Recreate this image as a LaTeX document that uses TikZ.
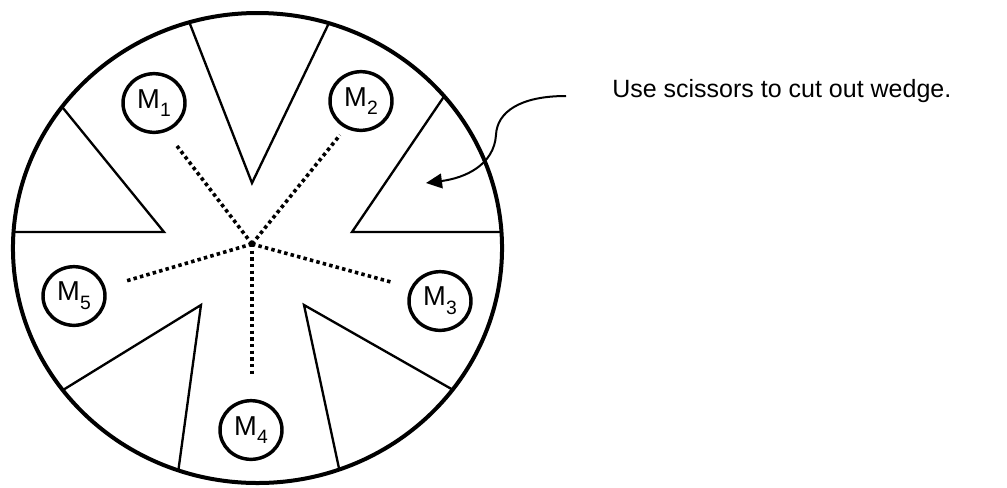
\documentclass[tikz,border=0pt]{standalone}
\usepackage{fontspec}
\setmainfont{Liberation Sans}
\usetikzlibrary{arrows.meta,shapes.geometric,calc}
% label "M" with a lowered index
\newcommand\msub[1]{M\raisebox{-6.5pt}{\fontsize{14.5}{14.5}\selectfont #1}}
\begin{document}
\begin{tikzpicture}[x=0.75pt,y=-0.75pt,
  mnode/.style={draw,ellipse,line width=2.6pt,minimum width=46.5pt,minimum height=44pt,
    inner sep=0pt,font=\fontsize{20.5}{22}\selectfont},
  rim/.style={line width=3pt},
  cut/.style={line width=1.75pt,line join=miter},
  spoke/.style={line width=2.7pt,dash pattern=on 2.6pt off 2.4pt},
  note/.style={font=\fontsize{18.75}{22}\selectfont,anchor=base west,inner sep=0pt},
  pointer/.style={line width=1.5pt,-{Triangle[length=12pt,width=11pt]}}]
\useasboundingbox (0,0) rectangle (1007,487);

% wedges to be cut out, trimmed to the disc
\begin{scope}
  \clip (257.5,248) ellipse [x radius=183.4pt, y radius=176.25pt];
  \draw[cut] ($(252,183)!1.15!(190,24)$) -- (252,183) -- ($(252,183)!1.15!(328,25)$);
  \draw[cut] ($(352,232)!1.15!(443,98)$) -- (352,232) -- (530,232);
  \draw[cut] ($(164,232)!1.15!(63,108)$) -- (164,232) -- (-10,232);
  \draw[cut] ($(201,305)!1.15!(63,390)$) -- (201,305) -- ($(201,305)!1.15!(178,473)$);
  \draw[cut] ($(304,305)!1.15!(455,391)$) -- (304,305) -- ($(304,305)!1.15!(340,473)$);
\end{scope}

% outer rim of the disc
\draw[rim] (257.5,248) ellipse [x radius=183.4pt, y radius=176.25pt];

% markers
\node[mnode] (m1) at (154,103) {\msub{1}};
\node[mnode] (m2) at (361,101) {\msub{2}};
\node[mnode] (m3) at (440,301) {\msub{3}};
\node[mnode] (m4) at (251,430) {\msub{4}};
\node[mnode] (m5) at (74,296)  {\msub{5}};

% dotted spokes from the hub
\coordinate (hub) at (252,244);
\coordinate (s1) at (177,146);
\coordinate (s2) at (340,135);
\coordinate (s3) at (391,282);
\coordinate (s4) at (252,377);
\coordinate (s5) at (126,281);
\foreach \s in {s1,s2,s3,s4,s5}
  \draw[spoke] (hub) -- (\s);

% instruction with pointer into the wedge
\node[note] (label) at (612,97) {Use scissors to cut out wedge.};
\coordinate (cutfrom) at (566,96);
\coordinate (cutto) at (426,183);
\draw[pointer] (cutfrom) .. controls (520,96) and (497,112) .. (496,135)
  .. controls (494,165) and (465,178) .. (cutto);
\end{tikzpicture}
\end{document}
